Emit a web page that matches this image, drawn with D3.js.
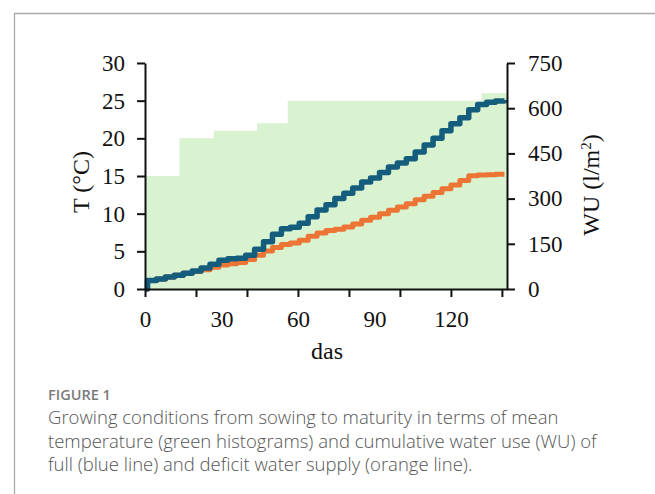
<!DOCTYPE html>
<html>
<head>
<meta charset="utf-8">
<script src="https://cdn.jsdelivr.net/npm/d3@7"></script>
<style>
  body { margin: 0; background: #fff; }
  svg { display: block; }
</style>
</head>
<body>
<div class="chart"></div>
<script>
// Data - mean temperature steps (start day, degC)
const tempDays = [0, 13.5, 27, 44, 56, 132, 142];
const tempVals = [15, 20, 21, 22, 25, 26, 26];

// cumulative water use (l/m2)
const wuDays = [0, 1, 4.5, 8, 11.5, 15, 18.5, 22, 25.5, 29, 32.5, 36, 39.5, 43, 46.5, 50, 53.5, 57, 60.5, 64,
    67.5, 71, 74.5, 78, 81.5, 85, 88.5, 92, 95.5, 99, 102.5, 106, 109.5, 113, 116.5, 120, 123.5, 127, 130.5, 134, 137.5, 141];
const wuFull = [0, 28, 33, 40, 46, 52, 60, 70, 82, 95, 100, 102, 112, 132, 157, 182, 200, 205, 218, 240,
    262, 280, 300, 318, 335, 355, 368, 387, 405, 418, 432, 455, 478, 500, 525, 548, 568, 595, 612, 620, 624, 627];
const wuDeficit = [0, 28, 33, 40, 46, 52, 58, 64, 72, 80, 84, 88, 98, 112, 126, 138, 148, 153, 162, 175,
    186, 194, 198, 206, 216, 228, 238, 250, 261, 272, 283, 296, 308, 320, 333, 345, 360, 376, 378, 379, 381, 381];

const xTicks = [0, 20, 40, 60, 80, 100, 120, 140];
const xLabels = [0, 30, 60, 90, 120];
const tTicks = [0, 5, 10, 15, 20, 25, 30];
const wuTicks = [0, 150, 300, 450, 600, 750];

const caption = [
    "Growing conditions from sowing to maturity in terms of mean",
    "temperature (green histograms) and cumulative water use (WU) of",
    "full (blue line) and deficit water supply (orange line)."
];

const width = 655, height = 494;
const svg = d3.select(".chart").append("svg")
    .attr("width", width)
    .attr("height", height);

// panel frame
svg.append("path")
    .attr("d", "M14.5,494 V13.5 H655")
    .attr("fill", "none")
    .attr("stroke", "#a9a9a9")
    .attr("stroke-width", 1.3);

// scales
const x = d3.scaleLinear().domain([0, 142]).range([145, 507]);
const yT = d3.scaleLinear().domain([0, 30]).range([289, 63]);
const yW = d3.scaleLinear().domain([0, 750]).range([289, 63]);

// green temperature histogram
const tData = tempDays.map((d, i) => ({ day: d, t: tempVals[i] }));
svg.append("path")
    .datum(tData)
    .attr("fill", "#d9f2d0")
    .attr("d", d3.area()
        .curve(d3.curveStepAfter)
        .x(d => x(d.day))
        .y0(yT(0))
        .y1(d => yT(d.t)));

// water use lines
const line = d3.line()
    .curve(d3.curveStepAfter)
    .x(d => x(d.day))
    .y(d => yW(d.wu));

svg.append("path")
    .datum(wuDays.map((d, i) => ({ day: d, wu: wuDeficit[i] })))
    .attr("fill", "none")
    .attr("stroke", "#ec7434")
    .attr("stroke-width", 5)
    .attr("stroke-linejoin", "round")
    .attr("d", line);

svg.append("path")
    .datum(wuDays.map((d, i) => ({ day: d, wu: wuFull[i] })))
    .attr("fill", "none")
    .attr("stroke", "#155d7c")
    .attr("stroke-width", 5.5)
    .attr("stroke-linejoin", "round")
    .attr("d", line);

// axes
const font = "'Liberation Serif', 'Times New Roman', serif";

const gx = svg.append("g")
    .attr("transform", `translate(0, ${yT(0)})`)
    .call(d3.axisBottom(x).tickValues(xTicks).tickFormat("").tickSize(8).tickSizeOuter(0));

const gxl = svg.append("g")
    .attr("transform", `translate(0, ${yT(0)})`)
    .call(d3.axisBottom(x).tickValues(xLabels).tickSize(0).tickPadding(22));
gxl.select(".domain").remove();

const gl = svg.append("g")
    .attr("transform", `translate(${x(0)}, 0)`)
    .call(d3.axisLeft(yT).tickValues(tTicks).tickSize(8).tickPadding(12).tickSizeOuter(0));

const gr = svg.append("g")
    .attr("transform", `translate(${x(142)}, 0)`)
    .call(d3.axisRight(yW).tickValues(wuTicks).tickSize(8).tickPadding(13).tickSizeOuter(0));

[gx, gxl, gl, gr].forEach(g => {
    g.selectAll("path, line").attr("stroke", "#111").attr("stroke-width", 2);
    g.selectAll("text")
        .attr("fill", "#111")
        .style("font-family", font)
        .style("font-size", "23px");
});

// axis titles
svg.append("text")
    .attr("x", 327).attr("y", 359)
    .attr("text-anchor", "middle")
    .style("font-family", font).style("font-size", "24px").attr("fill", "#111")
    .text("das");

svg.append("text")
    .attr("transform", "translate(89, 182) rotate(-90)")
    .attr("text-anchor", "middle")
    .style("font-family", font).style("font-size", "24px").attr("fill", "#111")
    .text("T (°C)");

const wuTitle = svg.append("text")
    .attr("transform", "translate(599, 185) rotate(-90)")
    .attr("text-anchor", "middle")
    .style("font-family", font).style("font-size", "24px").attr("fill", "#111");
wuTitle.append("tspan").text("WU (l/m");
wuTitle.append("tspan").attr("baseline-shift", "super").style("font-size", "15px").text("2");
wuTitle.append("tspan").text(")");

// caption
svg.append("text")
    .attr("x", 48).attr("y", 400)
    .style("font-family", "'Open Sans', sans-serif")
    .style("font-size", "14.5px").style("font-weight", 600)
    .attr("fill", "#7a7a7a")
    .text("FIGURE 1");

svg.selectAll(".cap")
    .data(caption)
    .enter()
    .append("text")
    .attr("class", "cap")
    .attr("x", 48)
    .attr("y", (d, i) => 424 + i * 23.5)
    .style("font-family", "'Open Sans', sans-serif")
    .style("font-size", "18.5px")
    .style("font-weight", 300)
    .attr("fill", "#555")
    .text(d => d);
</script>
</body>
</html>
